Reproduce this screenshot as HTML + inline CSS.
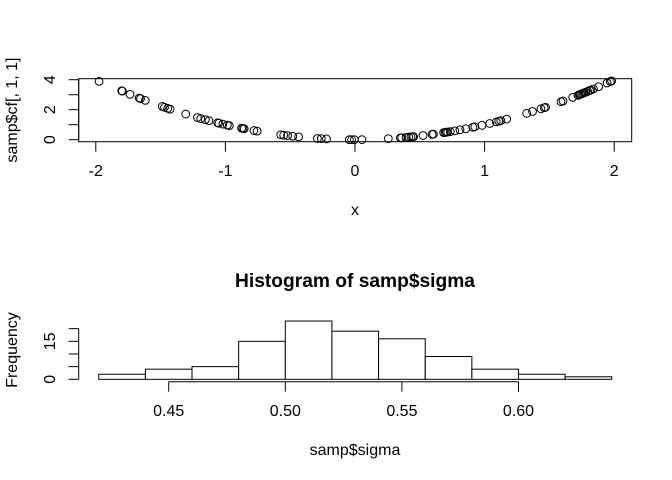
<!DOCTYPE html>
<html>
<head>
<meta charset="utf-8">
<style>
html,body{margin:0;padding:0;background:#fff;}
svg{display:block;}
text{font-family:"Liberation Sans",sans-serif;font-size:16px;fill:#000;}
</style>
</head>
<body>
<svg id="fig" width="672" height="480" viewBox="0 0 672 480" xmlns="http://www.w3.org/2000/svg"></svg>
<script>
const scatterX = [-1.975,-1.80,-1.795,-1.736,-1.665,-1.655,-1.618,-1.487,-1.47,-1.445,-1.427,-1.306,-1.216,-1.19,-1.155,-1.127,-1.06,-1.05,-1.02,-0.985,-0.97,-0.875,-0.865,-0.855,-0.78,-0.755,-0.573,-0.55,-0.52,-0.48,-0.435,-0.29,-0.26,-0.22,-0.044,-0.026,-0.005,0.054,0.257,0.35,0.36,0.394,0.415,0.432,0.445,0.452,0.525,0.595,0.605,0.684,0.695,0.705,0.715,0.735,0.77,0.81,0.855,0.91,0.925,0.98,1.04,1.09,1.11,1.125,1.17,1.325,1.37,1.435,1.46,1.47,1.59,1.605,1.68,1.72,1.73,1.74,1.75,1.76,1.77,1.78,1.795,1.81,1.82,1.84,1.88,1.945,1.97,1.98];
const scatterY = [3.89,3.26,3.24,3.02,2.78,2.74,2.62,2.22,2.16,2.09,2.04,1.71,1.48,1.41,1.34,1.27,1.13,1.10,1.04,0.97,0.94,0.77,0.75,0.73,0.61,0.57,0.33,0.30,0.27,0.23,0.19,0.08,0.07,0.05,0.00,0.00,0.00,0.00,0.07,0.12,0.13,0.155,0.17,0.19,0.20,0.20,0.28,0.35,0.37,0.47,0.48,0.50,0.51,0.54,0.59,0.66,0.73,0.83,0.86,0.96,1.08,1.19,1.23,1.27,1.37,1.76,1.88,2.06,2.13,2.16,2.53,2.58,2.82,2.96,2.99,3.03,3.06,3.10,3.13,3.17,3.22,3.28,3.31,3.39,3.53,3.78,3.88,3.92];
const scatterXTicks = [-2,-1,0,1,2];
const scatterYTicks = [0,1,2,3,4];
const scatterYLabels = [0,2,4];
const histBreaks = [0.42,0.44,0.46,0.48,0.50,0.52,0.54,0.56,0.58,0.60,0.62,0.64];
const histCounts = [2,4,5,15,23,19,16,9,4,2,1];
const histXTicks = ["0.45","0.50","0.55","0.60"];
const histYTicks = [0,5,10,15,20];
const histYLabels = [0,15];

const NS = "http://www.w3.org/2000/svg";
const fig = document.getElementById("fig");
function sx(v){return 355 + v * 129.6;}
function sy(v){return 139.7 - v * 15;}
function hx(v){return 285.3 + (v - 0.5) * 2332;}
function hy(v){return 379.3 - v * 2.533;}
function make(tag, attrs, parent){
  const el = document.createElementNS(NS, tag);
  for (const k in attrs) el.setAttribute(k, attrs[k]);
  (parent || fig).appendChild(el);
  return el;
}
function line(x1,y1,x2,y2,parent){
  return make("line",{x1:x1,y1:y1,x2:x2,y2:y2,stroke:"#000","stroke-width":1},parent);
}
function label(str,x,y,rot,parent,weight,size){
  const t = make("text",{x:x,y:y,"text-anchor":"middle"},parent);
  if (rot) t.setAttribute("transform","rotate(-90 "+x+" "+y+")");
  if (weight) t.style.fontWeight = weight;
  if (size) t.style.fontSize = size + "px";
  t.textContent = str;
  return t;
}
function group(name){
  const g = make("g",{});
  
  
  return g;
}

/* top panel */
const gPoints = group('scatter-points');
scatterX.forEach(function(v,i){
  const c = make("circle",{cx:sx(v),cy:sy(scatterY[i]),r:3.9,fill:"none",stroke:"#000","stroke-width":1},gPoints);
  
  
});
const box = make("rect",{x:78.7,y:78.7,width:553,height:63,fill:"none",stroke:"#000","stroke-width":1});



const gTopX = group('scatter-x-axis');
scatterXTicks.forEach(function(v){
  line(sx(v),141.7,sx(v),151.7,gTopX);
  label(String(v),sx(v),176,false,gTopX);
});
const gTopY = group('scatter-y-axis');
line(78.7,sy(0),78.7,sy(4),gTopY);
scatterYTicks.forEach(function(v){
  line(68.7,sy(v),78.7,sy(v),gTopY);
});
scatterYLabels.forEach(function(v){
  label(String(v),55,sy(v),true,gTopY);
});
const xTitle = label("x",355,215);


const yTitle = label("samp$cf[, 1, 1]",17,110,true);



/* bottom panel */
const title = label("Histogram of samp$sigma",355,287,false,null,"bold",19.2);


const gBars = group('histogram-bars');
histCounts.forEach(function(n,i){
  const x0 = hx(histBreaks[i]);
  const x1 = hx(histBreaks[i+1]);
  const b = make("rect",{x:x0,y:hy(n),width:x1-x0,height:hy(0)-hy(n),fill:"#fff",stroke:"#000","stroke-width":1},gBars);
  
  
});
const gHistX = group('histogram-x-axis');
line(hx(+histXTicks[0]),381.7,hx(+histXTicks[histXTicks.length-1]),381.7,gHistX);
histXTicks.forEach(function(s){
  line(hx(+s),381.7,hx(+s),391.7,gHistX);
  label(s,hx(+s),416,false,gHistX);
});
const gHistY = group('histogram-y-axis');
line(78.7,hy(0),78.7,hy(20),gHistY);
histYTicks.forEach(function(v){
  line(68.7,hy(v),78.7,hy(v),gHistY);
});
histYLabels.forEach(function(v){
  label(String(v),55,hy(v),true,gHistY);
});
const hxTitle = label("samp$sigma",355,455);


const hyTitle = label("Frequency",17,350,true);


</script>
</body>
</html>
